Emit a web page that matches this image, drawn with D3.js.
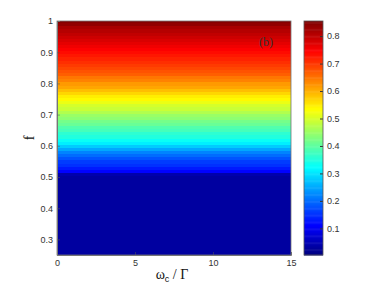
<!DOCTYPE html>
<html>
<head>
<meta charset="UTF-8">
<script src="https://cdn.jsdelivr.net/npm/d3@7"></script>
<style>
body{margin:0;background:#fff;}
text{font-family:"Liberation Sans",Arial,sans-serif;}
</style>
</head>
<body>
<svg width="382" height="287"></svg>
<script>
// f 轴上的行 (0.25 到 1.00, 步长 0.01)
var fRows=[0.25,0.26,0.27,0.28,0.29,0.30,0.31,0.32,0.33,0.34,0.35,0.36,0.37,0.38,0.39,
  0.40,0.41,0.42,0.43,0.44,0.45,0.46,0.47,0.48,0.49,0.50,0.51,0.52,0.53,0.54,0.55,
  0.56,0.57,0.58,0.59,0.60,0.61,0.62,0.63,0.64,0.65,0.66,0.67,0.68,0.69,0.70,0.71,
  0.72,0.73,0.74,0.75,0.76,0.77,0.78,0.79,0.80,0.81,0.82,0.83,0.84,0.85,0.86,0.87,
  0.88,0.89,0.90,0.91,0.92,0.93,0.94,0.95,0.96,0.97,0.98,0.99,1.00];
// 每一行的颜色值 (与 ωc 无关)
var rowValues=[0.03,0.03,0.03,0.03,0.03,0.03,0.03,0.03,0.03,0.03,0.03,0.03,0.03,0.03,0.03,
  0.03,0.03,0.03,0.03,0.03,0.03,0.03,0.03,0.03,0.03,0.03,0.04,0.11,0.13,0.15,0.16,
  0.18,0.20,0.22,0.25,0.28,0.31,0.33,0.35,0.36,0.38,0.39,0.41,0.42,0.44,0.45,0.47,
  0.49,0.50,0.52,0.54,0.55,0.57,0.59,0.61,0.62,0.64,0.65,0.67,0.68,0.69,0.70,0.71,
  0.72,0.73,0.74,0.75,0.76,0.77,0.78,0.79,0.80,0.81,0.82,0.84,0.85];
var xTicks=[0,5,10,15];
var yTicks=[0.3,0.4,0.5,0.6,0.7,0.8,0.9,1];
var cbTicks=[0.1,0.2,0.3,0.4,0.5,0.6,0.7,0.8];
var cRange=[0.003,0.855];

var svg=d3.select('svg');
var plot={left:57,right:291,top:21,bottom:255};
var cb={left:304,right:323};

var xScale=d3.scaleLinear().domain([0,15]).range([plot.left,plot.right]);
var yScale=d3.scaleLinear().domain([0.25,1]).range([plot.bottom,plot.top]);
var cScale=d3.scaleLinear().domain(cRange).range([plot.bottom,plot.top]);

// jet 色图
function jet(v){
    var t=(v-cRange[0])/(cRange[1]-cRange[0]);
    t=Math.max(0,Math.min(1,t));
    function c(x){return Math.round(255*Math.max(0,Math.min(1,x)));}
    return 'rgb('+c(1.5-Math.abs(4*t-3))+','+c(1.5-Math.abs(4*t-2))+','+c(1.5-Math.abs(4*t-1))+')';
}

svg.append('clipPath').attr('id','clip').append('rect')
    .attr('x',plot.left).attr('y',plot.top)
    .attr('width',plot.right-plot.left).attr('height',plot.bottom-plot.top);

var rows=fRows.map(function(f,i){return {f:f,v:rowValues[i]};});
svg.append('g').attr('clip-path','url(#clip)')
    .selectAll('rect').data(rows).enter().append('rect')
    .attr('x',xScale(0))
    .attr('width',xScale(15)-xScale(0))
    .attr('y',function(d){return yScale(d.f+0.005);})
    .attr('height',function(){return yScale(0.24)-yScale(0.25)+0.6;})
    .attr('fill',function(d){return jet(d.v);})
    .attr('shape-rendering','crispEdges');

// 坐标轴
var xAxis=d3.axisBottom(xScale).tickValues(xTicks).tickSize(-3).tickPadding(5);
var yAxis=d3.axisLeft(yScale).tickValues(yTicks).tickSize(-3).tickPadding(4)
    .tickFormat(function(d){return d===1?'1':d3.format('.1f')(d);});
var gx=svg.append('g').attr('transform','translate(0,'+plot.bottom+')').call(xAxis);
var gy=svg.append('g').attr('transform','translate('+plot.left+',0)').call(yAxis);
[gx,gy].forEach(function(g){
    g.select('.domain').attr('stroke','#777');
    g.selectAll('.tick line').attr('stroke','#555').attr('stroke-opacity',0.5);
    g.selectAll('.tick text').attr('font-size',9).attr('fill','#333')
        .attr('font-family','"Liberation Sans",Arial,sans-serif');
});
svg.append('rect').attr('x',plot.left).attr('y',plot.top)
    .attr('width',plot.right-plot.left).attr('height',plot.bottom-plot.top)
    .attr('fill','none').attr('stroke','#777').attr('stroke-width',0.8);

// 色标
var cbVals=d3.range(0,200).map(function(i){return cRange[0]+(cRange[1]-cRange[0])*i/199;});
var cbStep=(plot.bottom-plot.top)/200;
svg.append('g').selectAll('rect').data(cbVals).enter().append('rect')
    .attr('x',cb.left).attr('width',cb.right-cb.left)
    .attr('y',function(d,i){return plot.bottom-(i+1)*cbStep;})
    .attr('height',cbStep+0.5)
    .attr('fill',function(d){return jet(d);});
var cAxis=d3.axisRight(cScale).tickValues(cbTicks).tickSize(-3).tickPadding(4).tickFormat(d3.format('.1f'));
var gc=svg.append('g').attr('transform','translate('+cb.right+',0)').call(cAxis);
gc.select('.domain').remove();
gc.selectAll('.tick line').attr('stroke','#333');
gc.selectAll('.tick text').attr('font-size',9).attr('fill','#333')
    .attr('font-family','"Liberation Sans",Arial,sans-serif');
svg.append('rect').attr('x',cb.left).attr('y',plot.top)
    .attr('width',cb.right-cb.left).attr('height',plot.bottom-plot.top)
    .attr('fill','none').attr('stroke','#555').attr('stroke-width',0.8);

// 标题
var xl=svg.append('text').attr('x',172).attr('y',279).attr('text-anchor','middle')
    .attr('font-size',14).attr('fill','#111')
    .style('font-family','"Liberation Serif","Times New Roman",serif');
xl.append('tspan').text('ω');
xl.append('tspan').attr('font-size',9).attr('dy',3)
    .style('font-family','"Liberation Sans",Arial,sans-serif').text('c');
xl.append('tspan').attr('dy',-3).text(' / Γ');

svg.append('text').attr('transform','translate(34,138) rotate(-90)')
    .attr('text-anchor','middle').attr('font-size',14).attr('fill','#111')
    .style('font-family','"Liberation Serif","Times New Roman",serif').text('f');

svg.append('text').attr('x',266).attr('y',46).attr('text-anchor','middle')
    .attr('font-size',12).attr('fill','#333')
    .style('font-family','"Liberation Serif","Times New Roman",serif').text('(b)');
</script>
</body>
</html>
